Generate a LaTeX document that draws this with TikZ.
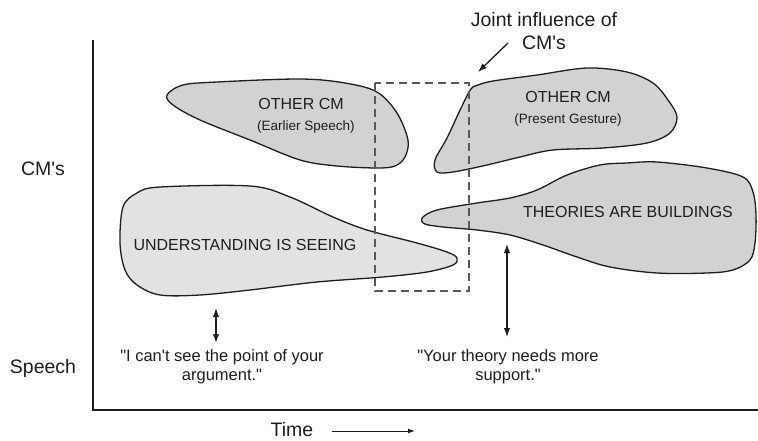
\documentclass[tikz,border=0pt]{standalone}
\usepackage{fontspec}
\setmainfont{Liberation Sans}[Ligatures=TeXOff]
\usetikzlibrary{arrows.meta}
\definecolor{inkc}{HTML}{1E1E1E}
\definecolor{blobdark}{HTML}{D2D2D2}
\definecolor{bloblight}{HTML}{E2E2E2}
\begin{document}
\begin{tikzpicture}[x=1pt,y=-1pt,
  blob/.style={draw=inkc,line width=1.3pt,fill=blobdark,smooth cycle,tension=0.55},
  axislabel/.style={font=\fontsize{19.5}{23}\selectfont,text=inkc,inner sep=0pt},
  blobtitle/.style={font=\fontsize{16}{19}\selectfont,text=inkc,inner sep=0pt},
  blobsub/.style={font=\fontsize{13.5}{16}\selectfont,text=inkc,inner sep=0pt},
  quote/.style={font=\fontsize{16.5}{19}\selectfont,text=inkc,align=center,inner sep=0pt},
  axisline/.style={draw=inkc,line width=1.4pt},
  joint/.style={draw=black!65,line width=1.8pt,dash pattern=on 8pt off 5pt},
  tip/.style={line width=1.3pt,draw=inkc,{Latex[length=9pt,width=6.5pt]}-{Latex[length=9pt,width=6.5pt]}},
  onetip/.style={line width=1.3pt,draw=inkc,-{Latex[length=9pt,width=6.5pt]}}
]
\useasboundingbox (0,0) rectangle (758,441);

% axes
\coordinate (ax-top) at (93,40);
\coordinate (ax-origin) at (93,410);
\coordinate (ax-right) at (758,410);
\draw[axisline] (ax-top) -- (ax-origin) -- (ax-right);

\node[axislabel] (cms) at (43,169) {CM's};
\node[axislabel] (speech) at (43,368) {Speech};
\node[axislabel] (time) at (292,430) {Time};
\coordinate (time-end) at (415,431);
\draw[line width=1pt,draw=inkc,-{Latex[length=7pt,width=5pt]}] ([xshift=18pt,yshift=-1pt]time.east) -- (time-end);

% conceptual metaphors
\filldraw[blob] plot coordinates {(167,95) (183,85) (217,82) (300,79) (345,83) (377,92)
  (397,113) (408,140) (405,157) (395,166) (377,168) (337,166) (300,160) (250,140) (200,120) (173,105)};
\filldraw[blob] plot coordinates {(471,89) (462,106) (447,138) (435,160) (437,172) (453,172)
  (487,165) (520,157) (553,150) (603,148) (647,143) (670,133) (677,117) (668,100) (653,83)
  (627,72) (587,68) (537,75) (493,81) (478,85)};
\filldraw[blob,fill=bloblight] plot coordinates {(120,243) (123,207) (137,193) (160,187) (250,186)
  (290,197) (333,217) (367,230) (417,243) (447,252) (457,258) (453,265) (427,272) (383,277)
  (317,282) (250,290) (200,295) (160,295) (137,285) (125,270)};
\filldraw[blob] plot coordinates {(422,218) (437,210) (477,203) (510,198) (537,190) (567,175)
  (600,165) (627,163) (657,162) (707,168) (743,177) (753,192) (756,215) (755,243) (750,260)
  (733,270) (707,273) (657,273) (610,267) (577,257) (543,245) (510,235) (477,230) (443,227) (425,224)};

\node[blobtitle] (cm-earlier) at (301,104) {OTHER CM};
\node[blobsub] (cm-earlier-sub) at (306,127) {(Earlier Speech)};
\node[blobtitle] (cm-present) at (568,97) {OTHER CM};
\node[blobsub] (cm-present-sub) at (568,120) {(Present Gesture)};
\node[blobtitle] (seeing) at (245,245) {UNDERSTANDING IS SEEING};
\node[blobtitle] (buildings) at (628,212) {THEORIES ARE BUILDINGS};

% region where the metaphors overlap
\draw[joint] (375,83) rectangle (469,291);
\node[axislabel,align=center] (joint-label) at (544,31) {Joint influence of\\CM's};
\coordinate (joint-from) at (508,43);
\coordinate (joint-to) at (478,72);
\draw[onetip] (joint-from) -- (joint-to);

% utterances
\node[quote] (quote-seeing) at (222,367) {"I can't see the point of your\\argument."};
\node[quote] (quote-buildings) at (508,367) {"Your theory needs more\\support."};
\coordinate (seeing-a) at (216,308);
\coordinate (seeing-b) at (216,343);
\coordinate (buildings-a) at (507,244);
\coordinate (buildings-b) at (507,337);
\draw[tip] (seeing-a) -- (seeing-b);
\draw[tip] (buildings-a) -- (buildings-b);
\end{tikzpicture}
\end{document}
